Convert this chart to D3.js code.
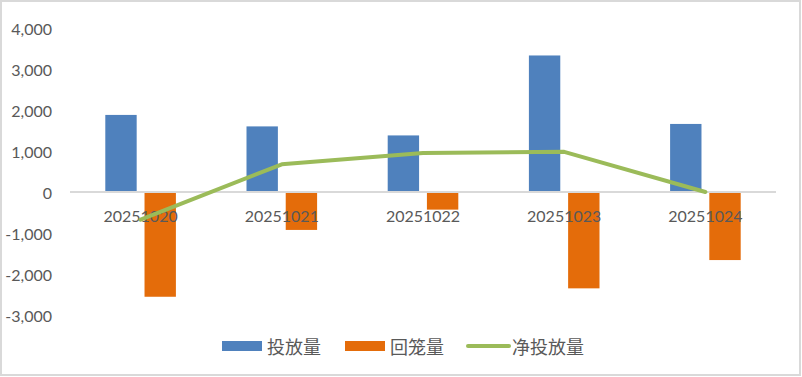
<!DOCTYPE html>
<html><head><meta charset="utf-8">
<script src="https://cdn.jsdelivr.net/npm/d3@7"></script>
<style>body{margin:0;background:#fff}svg{display:block}</style>
</head><body>
<script>
const categories = ["20251020","20251021","20251022","20251023","20251024"];
const invest = [1880, 1600, 1380, 3330, 1660];
const repay = [-2555, -925, -430, -2350, -1660];
const net = [-675, 675, 950, 980, 0];
const yTicks = [-3000,-2000,-1000,0,1000,2000,3000,4000];
const seriesNames = ["投放量","回笼量","净投放量"];
const colors = ["#4F81BD","#E46C0A","#9BBB59"];

const W=802,H=377;
const svg=d3.select("body").append("svg").attr("width",W).attr("height",H);
svg.append("rect").attr("x",1).attr("y",1).attr("width",799).attr("height",374)
  .attr("fill","#fff").attr("stroke","#D9D9D9").attr("stroke-width",2);

const x=d3.scaleBand().domain(categories).range([70,776]);
const bw=x.bandwidth();
const x1=d3.scaleBand().domain(["invest","repay"]).range([bw*0.25,bw*0.75]).paddingInner(0.2);
const y=d3.scaleLinear().domain([-3000,4000]).range([315,28]);

const font="Lato, 'Noto Sans', sans-serif";
svg.append("g").selectAll("text").data(yTicks).join("text")
  .attr("x",52).attr("y",d=>y(d)).attr("text-anchor","end").attr("dominant-baseline","central")
  .attr("font-family",font).attr("font-size",16).attr("fill","#595959")
  .text(d=>d3.format(",")(d).replace("−","-"));

const bars=[{k:"invest",v:invest,c:colors[0]},{k:"repay",v:repay,c:colors[1]}];
bars.forEach(s=>{
  svg.append("g").selectAll("rect").data(categories).join("rect")
    .attr("x",(d)=>x(d)+x1(s.k))
    .attr("width",x1.bandwidth())
    .attr("y",(d,i)=>Math.min(y(s.v[i]),y(0)))
    .attr("height",(d,i)=>Math.abs(y(s.v[i])-y(0)))
    .attr("fill",s.c);
});

svg.append("line").attr("x1",70).attr("x2",776).attr("y1",y(0)).attr("y2",y(0))
  .attr("stroke","#D9D9D9").attr("stroke-width",2);

svg.append("g").selectAll("text").data(categories).join("text")
  .attr("x",d=>x(d)+bw/2).attr("y",y(0)+30).attr("text-anchor","middle")
  .attr("font-family",font).attr("font-size",16).attr("fill","#595959").text(d=>d);

const line=d3.line().x((d,i)=>x(categories[i])+bw/2).y(d=>y(d));
svg.append("path").datum(net).attr("d",line).attr("fill","none")
  .attr("stroke",colors[2]).attr("stroke-width",4).attr("stroke-linejoin","round").attr("stroke-linecap","round");

// legend
const lg=svg.append("g");
const cjk="'Noto Sans CJK SC', sans-serif";
lg.append("rect").attr("x",222).attr("y",341).attr("width",40).attr("height",10).attr("fill",colors[0]);
lg.append("text").attr("x",267).attr("y",346).attr("dominant-baseline","central").attr("font-family",cjk).attr("font-size",18).attr("fill","#595959").text(seriesNames[0]);
lg.append("rect").attr("x",345).attr("y",341).attr("width",40).attr("height",10).attr("fill",colors[1]);
lg.append("text").attr("x",390).attr("y",346).attr("dominant-baseline","central").attr("font-family",cjk).attr("font-size",18).attr("fill","#595959").text(seriesNames[1]);
lg.append("line").attr("x1",468).attr("x2",509).attr("y1",346).attr("y2",346).attr("stroke",colors[2]).attr("stroke-width",4).attr("stroke-linecap","round");
lg.append("text").attr("x",512).attr("y",346).attr("dominant-baseline","central").attr("font-family",cjk).attr("font-size",18).attr("fill","#595959").text(seriesNames[2]);
</script>
</body></html>
